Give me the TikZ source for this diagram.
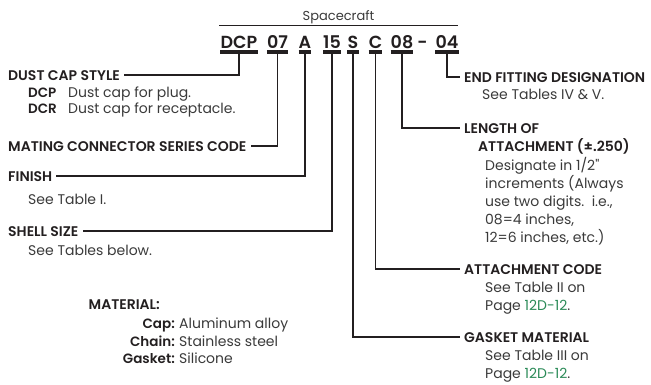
\documentclass[tikz,border=0pt]{standalone}
\usepackage{fontspec}
\setmainfont{Poppins}[BoldFont={Poppins SemiBold}]
\usepackage{tikz}
\usetikzlibrary{positioning}

\definecolor{ink}{HTML}{231F20}
\definecolor{bodygray}{HTML}{3A3A3A}
\definecolor{pagegreen}{HTML}{2A8A57}

\begin{document}
\begin{tikzpicture}[x=1pt, y=-1pt,
    code/.style={font=\bfseries\fontsize{17.5}{20}\selectfont, text=ink, inner sep=0pt, anchor=base, text depth=0pt},
    head/.style={font=\bfseries\fontsize{14}{16}\selectfont, text=ink, inner xsep=4pt, inner ysep=0pt, text height=10pt, text depth=0pt, anchor=base west},
    body/.style={font=\fontsize{14}{18}\selectfont, text=bodygray, inner sep=0pt, align=left, anchor=base west},
    key/.style={font=\bfseries\fontsize{13.5}{16}\selectfont, text=ink, inner sep=0pt},
    bar/.style={draw=ink, line width=3.5pt},
    link/.style={draw=ink, line width=1.3pt},
]
\useasboundingbox (0,0) rectangle (651,384);

% part number
\node[font=\fontsize{13}{15}\selectfont, text=bodygray, anchor=base] (craft) at (338.5,20) {Spacecraft};
\draw[draw=ink, line width=0.9pt] (219,25) -- (458,25);

\node[code] (style)  at (239,48)   {DCP};
\node[code] (series) at (277.5,48) {07};
\node[code] (finish) at (305,48)   {A};
\node[code] (shell)  at (332,48)   {15};
\node[code] (gasket) at (353,48)   {S};
\node[code] (attach) at (375.5,48) {C};
\node[code] (length) at (402,48)   {08};
\node[code] (dash)   at (422.5,48) {-};
\node[code] (ending) at (447,48)   {04};

\foreach \n in {style,series,finish,shell,gasket,attach,length,ending}
  \draw[bar] ([yshift=-4pt]\n.south west) -- ([yshift=-4pt]\n.south east);

% left side
\node[head] (styleL)  at (4,80)  {DUST CAP STYLE};
\node[key, anchor=base west] (dcpK) at (28,97)  {DCP};
\node[body] (dcpB) at (68,97)  {Dust cap for plug.};
\node[key, anchor=base west] (dcrK) at (28,113) {DCR};
\node[body] (dcrB) at (68,113) {Dust cap for receptacle.};

\node[head] (seriesL) at (4,151) {MATING CONNECTOR SERIES CODE};

\node[head] (finishL) at (4,181) {FINISH};
\node[body] (finishB) at (28,204) {See Table I.};

\node[head] (shellL)  at (4,236) {SHELL SIZE};
\node[body] (shellB)  at (28,255) {See Tables below.};

% right side (multi-line bodies sit on their last baseline)
\node[head] (endL)    at (460,82)  {END FITTING DESIGNATION};
\node[body] (endB)    at (482,99)  {See Tables IV \& V.};

\node[head] (lengthL) at (460,133) {LENGTH OF};
\node[head, inner xsep=0pt] (lengthL2) at (478,151) {ATTACHMENT (±.250)};
\node[body] (lengthB) at (485,242) {Designate in 1/2{\addfontfeatures{Ligatures=TeXOff}"}\\increments (Always\\use two digits.\ \ i.e.,\\08=4 inches,\\12=6 inches, etc.)};

\node[head] (attachL) at (460,274) {ATTACHMENT CODE};
\node[body] (attachB) at (485,310) {See Table II on\\Page \textcolor{pagegreen}{12D-12}.};

\node[head] (gasketL) at (460,342) {GASKET MATERIAL};
\node[body] (gasketB) at (485,378) {See Table III on\\Page \textcolor{pagegreen}{12D-12}.};

% material
\node[head, inner xsep=0pt, anchor=base east] (matL) at (160,309) {MATERIAL:};
\foreach \k/\v/\y in {Cap/Aluminum alloy/328, Chain/Stainless steel/346, Gasket/Silicone/363} {
  \node[key, anchor=base east] (\k K) at (175,\y) {\k:};
  \node[body] (\k V) at (179,\y) {\v};
}

% leaders
\draw[link] ([yshift=-4pt]style.south)  |- (styleL.east);
\draw[link] ([yshift=-4pt]series.south) |- (seriesL.east);
\draw[link] ([yshift=-4pt]finish.south) |- (finishL.east);
\draw[link] ([yshift=-4pt]shell.south)  |- (shellL.east);
\draw[link] ([yshift=-4pt]gasket.south) |- (gasketL.west);
\draw[link] ([yshift=-4pt]attach.south) |- (attachL.west);
\draw[link] ([yshift=-4pt]length.south) |- (lengthL.west);
\draw[link] ([yshift=-4pt]ending.south) |- (endL.west);
\end{tikzpicture}
\end{document}
